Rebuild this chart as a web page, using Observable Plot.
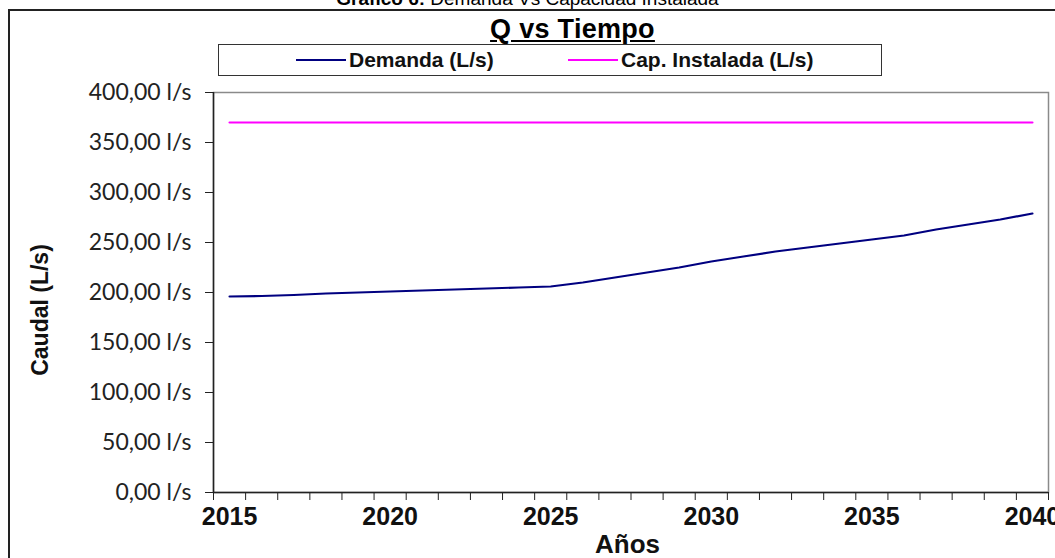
<!DOCTYPE html>
<html>
<head>
<meta charset="utf-8">
<script src="https://cdn.jsdelivr.net/npm/d3@7"></script>
<script src="https://cdn.jsdelivr.net/npm/@observablehq/plot@0.6"></script>
<style>
  html, body { margin: 0; padding: 0; background: #fff; overflow: hidden; }
  #wrap { position: relative; width: 1055px; height: 558px; }
  #caption { position: absolute; left: 0; width: 1055px; top: -12px; text-align: center;
    font-family: "Liberation Sans", Arial, sans-serif; font-size: 19px; color: #000; }
  #frame { position: absolute; left: 8px; top: 9px; width: 1060px; height: 600px;
    border: 2px solid #222; box-sizing: border-box; }
  #title { position: absolute; left: 0; width: 1145px; top: 14px; text-align: center;
    font-family: "Liberation Sans", Arial, sans-serif; font-weight: bold;
    font-size: 27px; text-decoration: underline; color: #000; letter-spacing: 0.3px; }
  #legend { position: absolute; left: 218px; top: 44px; width: 664px; height: 32px;
    border: 1.5px solid #333; box-sizing: border-box; background: #fff; }
  .li { position: absolute; top: 4px; font-family: "Liberation Sans", Arial, sans-serif;
    font-weight: bold; font-size: 21px; color: #111; display: flex; align-items: center; height: 22px; }
  .sw { display: inline-block; width: 50px; height: 2px; margin-right: 3px; }
  #plot { position: absolute; left: 0; top: 0; }
  #ytitle { position: absolute; left: 40px; top: 310px; transform: translate(-50%, -50%) rotate(-90deg);
    font-family: "Liberation Sans", Arial, sans-serif; font-weight: bold; font-size: 23px; white-space: nowrap; color: #111; }
  #xtitle { position: absolute; left: 0; width: 1255px; top: 529px; text-align: center;
    font-family: "Liberation Sans", Arial, sans-serif; font-weight: bold; font-size: 26px; color: #111; }
</style>
</head>
<body>
<div id="wrap">
  <div id="caption"><b>Gráfico 6:</b> Demanda Vs Capacidad Instalada</div>
  <div id="frame"></div>
  <div id="plot"></div>
  <div id="title">Q vs Tiempo</div>
  <div id="legend"></div>
  <div id="ytitle">Caudal (L/s)</div>
  <div id="xtitle">Años</div>
</div>
<script>
const years = [2015, 2016, 2017, 2018, 2019, 2020, 2021, 2022, 2023, 2024, 2025, 2026, 2027,
  2028, 2029, 2030, 2031, 2032, 2033, 2034, 2035, 2036, 2037, 2038, 2039, 2040];
const demanda = [196, 196.5, 197.5, 199, 200, 201, 202, 203, 204, 205, 206, 210, 215,
  220, 225, 231, 236, 241, 245, 249, 253, 257, 263, 268, 273, 279];
const capInstalada = [370, 370, 370, 370, 370, 370, 370, 370, 370, 370, 370, 370, 370,
  370, 370, 370, 370, 370, 370, 370, 370, 370, 370, 370, 370, 370];
const xLabelYears = [2015, 2020, 2025, 2030, 2035, 2040];
const xTickBounds = [2014.5, 2015.5, 2016.5, 2017.5, 2018.5, 2019.5, 2020.5, 2021.5, 2022.5,
  2023.5, 2024.5, 2025.5, 2026.5, 2027.5, 2028.5, 2029.5, 2030.5, 2031.5, 2032.5, 2033.5,
  2034.5, 2035.5, 2036.5, 2037.5, 2038.5, 2039.5, 2040.5];
const yTicks = [0, 50, 100, 150, 200, 250, 300, 350, 400];
const seriesNames = ["Demanda (L/s)", "Cap. Instalada (L/s)"];
const seriesColors = ["#000080", "#ff00ff"];

const rows = [];
years.forEach((y, i) => {
  rows.push({year: y, q: demanda[i], s: seriesNames[0]});
  rows.push({year: y, q: capInstalada[i], s: seriesNames[1]});
});

const fmt = d => d.toFixed(2).replace(".", ",") + " l/s";

const chart = Plot.plot({
  width: 1055,
  height: 558,
  marginLeft: 213,
  marginRight: 7,
  marginTop: 92,
  marginBottom: 66,
  style: {background: "transparent", overflow: "visible"},
  x: {domain: [2014.5, 2040.5]},
  y: {domain: [0, 400]},
  color: {domain: seriesNames, range: seriesColors},
  marks: [
    Plot.frame({stroke: "#8a8a8a", strokeWidth: 1.5}),
    Plot.axisY({ticks: yTicks, tickSize: 8, tickPadding: 14, tickFormat: fmt, label: null,
      fontSize: 23, fontFamily: "Lato, 'Open Sans', sans-serif", fill: "#222", color: "#222"}),
    Plot.axisX({ticks: xTickBounds, tickSize: 8, tickFormat: () => "", label: null, color: "#222"}),
    Plot.axisX({ticks: xLabelYears, tickSize: 0, tickPadding: 15, tickFormat: d => String(d), label: null,
      fontSize: 25, fontWeight: "bold", fontFamily: "'Liberation Sans', Arial, sans-serif", fill: "#111"}),
    Plot.ruleX([2014.5], {stroke: "#222", strokeWidth: 1.5}),
    Plot.ruleY([0], {stroke: "#222", strokeWidth: 1.5}),
    Plot.line(rows, {x: "year", y: "q", stroke: "s", strokeWidth: 2.2, z: "s"})
  ]
});
document.getElementById("plot").appendChild(chart);

const leg = document.getElementById("legend");
const legX = [77, 349];
seriesNames.forEach((n, i) => {
  const d = document.createElement("div");
  d.className = "li";
  d.style.left = legX[i] + "px";
  d.innerHTML = `<span class="sw" style="background:${seriesColors[i]}"></span>${n}`;
  leg.appendChild(d);
});
</script>
</body>
</html>
